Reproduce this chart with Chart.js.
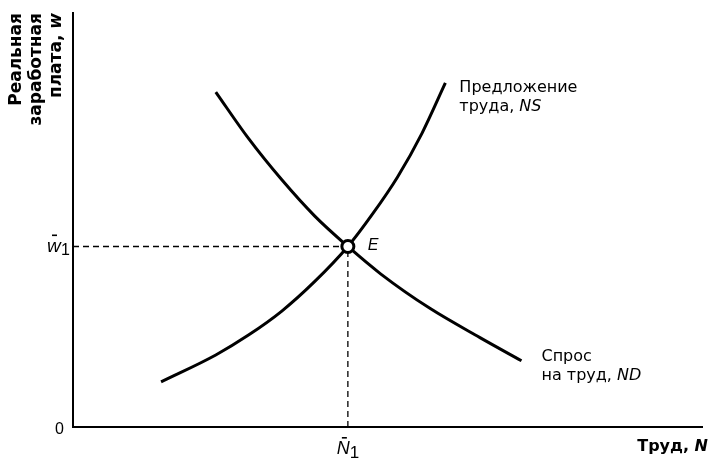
<!DOCTYPE html>
<html>
<head>
<meta charset="utf-8">
<script src="https://cdn.jsdelivr.net/npm/chart.js@4/dist/chart.umd.min.js"></script>
<style>
html,body{margin:0;padding:0;background:#fff;}
#wrap{width:711px;height:461px;}
</style>
</head>
<body>
<div id="wrap"><canvas id="c" width="711" height="461"></canvas></div>
<script>
// Demand for labour, ND (x = labour N, y = real wage w)
const ndX = [22.7, 27.9, 33.2, 38.4, 43.7, 48.9, 56.8, 64.7, 71.3];
const ndY = [80.9, 69.7, 59.7, 51.0, 43.6, 37.0, 28.6, 21.6, 16.0];
// Supply of labour, NS
const nsX = [14.0, 22.7, 27.9, 33.2, 38.4, 43.7, 47.6, 51.6, 55.5, 59.2];
const nsY = [10.9, 17.4, 22.2, 28.0, 35.1, 43.6, 51.4, 60.4, 71.0, 83.1];
// Equilibrium E
const eqN = [43.7];
const eqW = [43.6];
// Axis ranges
const xRange = [0, 100];
const yRange = [0, 100];
// Texts
const yTitle = ["Реальная", "заработная", "плата, "];
const yTitleVar = "w";
const xTitle = "Труд, ";
const xTitleVar = "N";
const nsLabel = ["Предложение", "труда, "]; const nsVar = "NS";
const ndLabel = ["Спрос", "на труд, "]; const ndVar = "ND";
const eLabel = "E";
const zeroLabel = "0";

const toPts = (xs, ys) => xs.map((x, i) => ({x: x, y: ys[i]}));
const SANS = '"Liberation Sans", Arial, sans-serif';
const WIDE = '"DejaVu Sans", sans-serif';

const textPlugin = {
  id: 'texts',
  afterDraw(chart) {
    const ctx = chart.ctx;
    const xs = chart.scales.x, ys = chart.scales.y;
    const ex = xs.getPixelForValue(eqN[0]);
    const ey = ys.getPixelForValue(eqW[0]);
    const x0 = xs.getPixelForValue(xRange[0]);
    const y0 = ys.getPixelForValue(yRange[0]);
    ctx.save();
    ctx.fillStyle = '#000';
    ctx.strokeStyle = '#000';

    // y title rotated
    ctx.save();
    ctx.rotate(-Math.PI / 2);
    ctx.textBaseline = 'alphabetic';
    ctx.textAlign = 'right';
    const baseXs = [21, 41, 61];
    const top = -13;
    for (let i = 0; i < 3; i++) {
      ctx.font = 'bold 17px ' + WIDE;
      if (i < 2) {
        ctx.fillText(yTitle[i], top, baseXs[i]);
      } else {
        ctx.font = 'italic bold 17px ' + WIDE;
        const wv = ctx.measureText(yTitleVar).width;
        ctx.fillText(yTitleVar, top, baseXs[i]);
        ctx.font = 'bold 17px ' + WIDE;
        ctx.fillText(yTitle[i], top - wv, baseXs[i]);
      }
    }
    ctx.restore();

    // "0"
    ctx.font = '16px ' + SANS;
    ctx.textAlign = 'right';
    ctx.textBaseline = 'alphabetic';
    ctx.fillText(zeroLabel, x0 - 9, y0 + 7);

    // w1 with bar
    ctx.textAlign = 'left';
    ctx.font = 'italic 19px ' + SANS;
    const wx = 47;
    ctx.fillText('w', wx, ey + 6);
    ctx.fillRect(wx + 5, ey - 12, 5, 1.6);
    ctx.font = '16px ' + SANS;
    ctx.fillText('1', wx + 14, ey + 9);

    // N1 with bar
    ctx.font = 'italic 18px ' + SANS;
    const nx = ex - 11;
    const ny = y0 + 27;
    ctx.fillText('N', nx, ny);
    ctx.fillRect(nx + 5, ny - 17, 5, 1.6);
    ctx.font = '17px ' + SANS;
    ctx.fillText('1', nx + 13, ny + 4);

    // x title
    ctx.font = 'italic bold 16px ' + WIDE;
    ctx.textAlign = 'right';
    const nW = ctx.measureText(xTitleVar).width;
    ctx.fillText(xTitleVar, 708, y0 + 24);
    ctx.font = 'bold 16px ' + WIDE;
    ctx.fillText(xTitle, 708 - nW, y0 + 24);

    // E label
    ctx.font = 'italic 16px ' + SANS;
    ctx.textAlign = 'left';
    ctx.fillText(eLabel, ex + 20, ey + 4);

    // curve labels
    const drawLab = (lines, v, x, y) => {
      ctx.font = '16px ' + WIDE;
      ctx.textAlign = 'left';
      ctx.fillText(lines[0], x, y);
      ctx.fillText(lines[1], x, y + 19);
      const w = ctx.measureText(lines[1]).width;
      ctx.font = 'italic 16px ' + WIDE;
      ctx.fillText(v, x + w, y + 19);
    };
    const nsLx = xs.getPixelForValue(nsX[nsX.length - 1]) + 14;
    const nsLy = ys.getPixelForValue(nsY[nsY.length - 1]) + 9;
    drawLab(nsLabel, nsVar, nsLx, nsLy);
    const ndLx = xs.getPixelForValue(ndX[ndX.length - 1]) + 20;
    const ndLy = ys.getPixelForValue(ndY[ndY.length - 1]) + 0;
    drawLab(ndLabel, ndVar, ndLx, ndLy);

    ctx.restore();
  }
};

new Chart(document.getElementById('c'), {
  type: 'scatter',
  data: {
    datasets: [
      {
        data: [{x: xRange[0], y: eqW[0]}, {x: eqN[0], y: eqW[0]}],
        showLine: true, borderColor: '#000', borderWidth: 1.3,
        borderDash: [6, 4], pointRadius: 0, order: 3
      },
      {
        data: [{x: eqN[0], y: yRange[0]}, {x: eqN[0], y: eqW[0]}],
        showLine: true, borderColor: '#000', borderWidth: 1.3,
        borderDash: [6, 4], pointRadius: 0, order: 3
      },
      {
        data: toPts(ndX, ndY), showLine: true, borderColor: '#000',
        borderWidth: 3, pointRadius: 0, cubicInterpolationMode: 'monotone', order: 2
      },
      {
        data: toPts(nsX, nsY), showLine: true, borderColor: '#000',
        borderWidth: 3, pointRadius: 0, cubicInterpolationMode: 'monotone', order: 2
      },
      {
        data: toPts(eqN, eqW), showLine: false, pointRadius: 6,
        pointBackgroundColor: '#fff', pointBorderColor: '#000',
        pointBorderWidth: 3, order: 1
      }
    ]
  },
  options: {
    responsive: false,
    animation: false,
    layout: { padding: { left: 73, right: 4, top: 13, bottom: 34 } },
    plugins: { legend: { display: false }, tooltip: { enabled: false } },
    scales: {
      x: {
        type: 'linear', min: xRange[0], max: xRange[1],
        grid: { display: false, drawTicks: false },
        ticks: { display: false, padding: 0 },
        border: { display: true, color: '#000', width: 2 }
      },
      y: {
        type: 'linear', min: yRange[0], max: yRange[1],
        grid: { display: false, drawTicks: false },
        ticks: { display: false, padding: 0 },
        border: { display: true, color: '#000', width: 2 }
      }
    }
  },
  plugins: [textPlugin]
});
</script>
</body>
</html>
